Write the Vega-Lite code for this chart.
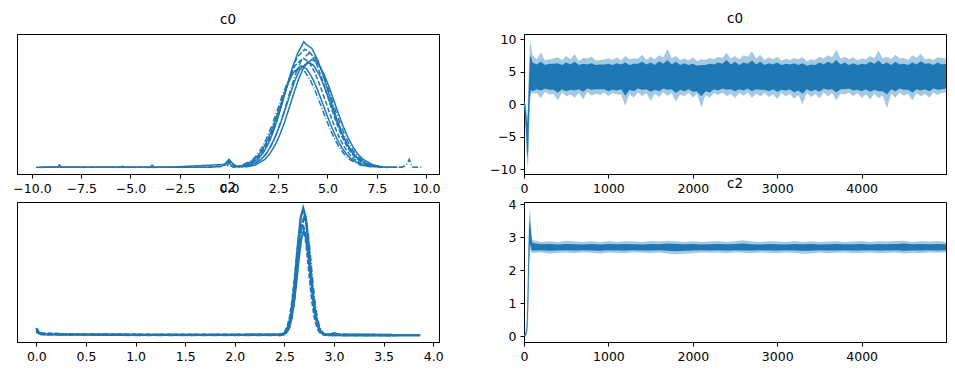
{
"$schema": "https://vega.github.io/schema/vega-lite/v6.json",
"padding": {"left": 12, "top": 11, "right": 9, "bottom": 5},
"config": {
 "font": "DejaVu Sans",
 "view": {"stroke": "black", "strokeWidth": 1},
 "axis": {"grid": false, "domainColor": "black", "tickColor": "black", "labelColor": "black", "labelFontSize": 12.5, "labelFont": "DejaVu Sans", "tickSize": 4, "labelPadding": 4, "labelOverlap": false, "labelFlush": false, "title": null},
 "title": {"fontSize": 13.5, "fontWeight": "normal", "font": "DejaVu Sans", "color": "black", "anchor": "middle", "offset": 8}
},
"datasets": {
 "kde0": [
  {"c":"a","x":-9.8,"y":0.003},{"c":"a","x":-9.0,"y":0.004},{"c":"a","x":-8.7,"y":0.005},{"c":"a","x":-8.6,"y":0.022},{"c":"a","x":-8.5,"y":0.004},{"c":"a","x":-7.5,"y":0.003},{"c":"a","x":-6.5,"y":0.004},{"c":"a","x":-5.5,"y":0.003},{"c":"a","x":-5.4,"y":0.012},{"c":"a","x":-5.3,"y":0.003},{"c":"a","x":-4.0,"y":0.004},{"c":"a","x":-3.9,"y":0.02},{"c":"a","x":-3.8,"y":0.004},{"c":"a","x":-2.5,"y":0.003},{"c":"a","x":-1.0,"y":0.004},{"c":"a","x":-0.4,"y":0.008},{"c":"a","x":-0.2,"y":0.03},{"c":"a","x":0.0,"y":0.065},{"c":"a","x":0.2,"y":0.03},{"c":"a","x":0.4,"y":0.01},
  {"c":"a","x":0.5,"y":0.006},{"c":"a","x":1.0,"y":0.021},{"c":"a","x":1.5,"y":0.071},{"c":"a","x":1.75,"y":0.119},{"c":"a","x":2.0,"y":0.189},{"c":"a","x":2.25,"y":0.282},{"c":"a","x":2.5,"y":0.399},{"c":"a","x":2.75,"y":0.533},{"c":"a","x":3.0,"y":0.672},{"c":"a","x":3.25,"y":0.801},{"c":"a","x":3.5,"y":0.902},{"c":"a","x":3.8,"y":0.99},{"c":"a","x":3.9,"y":0.97},{"c":"a","x":4.2,"y":0.938},{"c":"a","x":4.5,"y":0.847},{"c":"a","x":4.75,"y":0.738},{"c":"a","x":5.0,"y":0.614},{"c":"a","x":5.25,"y":0.487},{"c":"a","x":5.5,"y":0.369},{"c":"a","x":5.75,"y":0.266},{"c":"a","x":6.0,"y":0.183},{"c":"a","x":6.25,"y":0.12},{"c":"a","x":6.5,"y":0.076},{"c":"a","x":7.0,"y":0.025},{"c":"a","x":7.5,"y":0.007},{"c":"a","x":8.0,"y":0.004},{"c":"a","x":8.5,"y":0.003},
  {"c":"b","x":-9.6,"y":0.002},{"c":"b","x":-7.0,"y":0.003},{"c":"b","x":-4.0,"y":0.002},{"c":"b","x":-1.0,"y":0.003},{"c":"b","x":-0.2,"y":0.02},{"c":"b","x":0.0,"y":0.055},{"c":"b","x":0.2,"y":0.02},
  {"c":"b","x":0.35,"y":0.005},{"c":"b","x":0.85,"y":0.019},{"c":"b","x":1.35,"y":0.063},{"c":"b","x":1.6,"y":0.106},{"c":"b","x":1.85,"y":0.168},{"c":"b","x":2.1,"y":0.25},{"c":"b","x":2.35,"y":0.353},{"c":"b","x":2.6,"y":0.472},{"c":"b","x":2.85,"y":0.596},{"c":"b","x":3.1,"y":0.71},{"c":"b","x":3.35,"y":0.8},{"c":"b","x":3.75,"y":0.86},{"c":"b","x":4.05,"y":0.832},{"c":"b","x":4.35,"y":0.751},{"c":"b","x":4.6,"y":0.654},{"c":"b","x":4.85,"y":0.544},{"c":"b","x":5.1,"y":0.432},{"c":"b","x":5.35,"y":0.327},{"c":"b","x":5.6,"y":0.236},{"c":"b","x":5.85,"y":0.163},{"c":"b","x":6.1,"y":0.107},{"c":"b","x":6.35,"y":0.067},{"c":"b","x":6.85,"y":0.022},{"c":"b","x":7.35,"y":0.006},{"c":"b","x":8.0,"y":0.002},{"c":"b","x":8.8,"y":0.003},
  {"c":"c","x":-0.1,"y":0.01},{"c":"c","x":0.0,"y":0.04},{"c":"c","x":0.1,"y":0.012},
  {"c":"c","x":0.65,"y":0.005},{"c":"c","x":1.15,"y":0.02},{"c":"c","x":1.65,"y":0.066},{"c":"c","x":1.9,"y":0.111},{"c":"c","x":2.15,"y":0.176},{"c":"c","x":2.4,"y":0.262},{"c":"c","x":2.65,"y":0.37},{"c":"c","x":2.9,"y":0.494},{"c":"c","x":3.15,"y":0.624},{"c":"c","x":3.4,"y":0.743},{"c":"c","x":3.65,"y":0.837},{"c":"c","x":4.05,"y":0.9},{"c":"c","x":4.35,"y":0.87},{"c":"c","x":4.65,"y":0.786},{"c":"c","x":4.9,"y":0.685},{"c":"c","x":5.15,"y":0.57},{"c":"c","x":5.4,"y":0.452},{"c":"c","x":5.65,"y":0.342},{"c":"c","x":5.9,"y":0.247},{"c":"c","x":6.15,"y":0.17},{"c":"c","x":6.4,"y":0.112},{"c":"c","x":6.65,"y":0.07},{"c":"c","x":7.15,"y":0.023},{"c":"c","x":7.65,"y":0.006},{"c":"c","x":8.0,"y":0.003},{"c":"c","x":8.8,"y":0.004},{"c":"c","x":9.0,"y":0.02},{"c":"c","x":9.15,"y":0.065},{"c":"c","x":9.3,"y":0.005},{"c":"c","x":9.8,"y":0.003},
  {"c":"d","x":-9.5,"y":0.004},{"c":"d","x":-6.0,"y":0.003},{"c":"d","x":-3.0,"y":0.004},{"c":"d","x":-0.2,"y":0.025},{"c":"d","x":0.0,"y":0.045},{"c":"d","x":0.15,"y":0.01},
  {"c":"d","x":0.25,"y":0.005},{"c":"d","x":0.75,"y":0.018},{"c":"d","x":1.25,"y":0.058},{"c":"d","x":1.5,"y":0.098},{"c":"d","x":1.75,"y":0.156},{"c":"d","x":2.0,"y":0.233},{"c":"d","x":2.25,"y":0.329},{"c":"d","x":2.5,"y":0.439},{"c":"d","x":2.75,"y":0.554},{"c":"d","x":3.0,"y":0.661},{"c":"d","x":3.25,"y":0.744},{"c":"d","x":3.65,"y":0.8},{"c":"d","x":3.95,"y":0.774},{"c":"d","x":4.25,"y":0.698},{"c":"d","x":4.5,"y":0.609},{"c":"d","x":4.75,"y":0.506},{"c":"d","x":5.0,"y":0.402},{"c":"d","x":5.25,"y":0.304},{"c":"d","x":5.5,"y":0.219},{"c":"d","x":5.75,"y":0.151},{"c":"d","x":6.0,"y":0.099},{"c":"d","x":6.25,"y":0.062},{"c":"d","x":6.75,"y":0.021},{"c":"d","x":7.25,"y":0.006},
  {"c":"e","x":0.6,"y":0.005},{"c":"e","x":1.1,"y":0.018},{"c":"e","x":1.6,"y":0.061},{"c":"e","x":1.85,"y":0.102},{"c":"e","x":2.1,"y":0.162},{"c":"e","x":2.35,"y":0.242},{"c":"e","x":2.6,"y":0.341},{"c":"e","x":2.85,"y":0.456},{"c":"e","x":3.1,"y":0.575},{"c":"e","x":3.35,"y":0.686},{"c":"e","x":3.6,"y":0.772},{"c":"e","x":4.0,"y":0.83},{"c":"e","x":4.3,"y":0.803},{"c":"e","x":4.6,"y":0.725},{"c":"e","x":4.85,"y":0.632},{"c":"e","x":5.1,"y":0.525},{"c":"e","x":5.35,"y":0.417},{"c":"e","x":5.6,"y":0.315},{"c":"e","x":5.85,"y":0.227},{"c":"e","x":6.1,"y":0.157},{"c":"e","x":6.35,"y":0.103},{"c":"e","x":6.6,"y":0.065},{"c":"e","x":7.1,"y":0.022},{"c":"e","x":7.6,"y":0.006},
  {"c":"f","x":0.45,"y":0.006},{"c":"f","x":0.95,"y":0.02},{"c":"f","x":1.45,"y":0.068},{"c":"f","x":1.7,"y":0.114},{"c":"f","x":1.95,"y":0.181},{"c":"f","x":2.2,"y":0.271},{"c":"f","x":2.45,"y":0.382},{"c":"f","x":2.7,"y":0.511},{"c":"f","x":2.95,"y":0.644},{"c":"f","x":3.2,"y":0.768},{"c":"f","x":3.45,"y":0.865},{"c":"f","x":3.85,"y":0.93},{"c":"f","x":4.15,"y":0.899},{"c":"f","x":4.45,"y":0.812},{"c":"f","x":4.7,"y":0.708},{"c":"f","x":4.95,"y":0.589},{"c":"f","x":5.2,"y":0.467},{"c":"f","x":5.45,"y":0.353},{"c":"f","x":5.7,"y":0.255},{"c":"f","x":5.95,"y":0.176},{"c":"f","x":6.2,"y":0.115},{"c":"f","x":6.45,"y":0.073},{"c":"f","x":6.95,"y":0.024},{"c":"f","x":7.45,"y":0.007},
  {"c":"g","x":0.15,"y":0.005},{"c":"g","x":0.65,"y":0.017},{"c":"g","x":1.15,"y":0.057},{"c":"g","x":1.4,"y":0.096},{"c":"g","x":1.65,"y":0.152},{"c":"g","x":1.9,"y":0.227},{"c":"g","x":2.15,"y":0.321},{"c":"g","x":2.4,"y":0.428},{"c":"g","x":2.65,"y":0.541},{"c":"g","x":2.9,"y":0.644},{"c":"g","x":3.15,"y":0.725},{"c":"g","x":3.55,"y":0.78},{"c":"g","x":3.85,"y":0.754},{"c":"g","x":4.15,"y":0.681},{"c":"g","x":4.4,"y":0.594},{"c":"g","x":4.65,"y":0.494},{"c":"g","x":4.9,"y":0.392},{"c":"g","x":5.15,"y":0.296},{"c":"g","x":5.4,"y":0.214},{"c":"g","x":5.65,"y":0.147},{"c":"g","x":5.9,"y":0.097},{"c":"g","x":6.15,"y":0.061},{"c":"g","x":6.65,"y":0.02},{"c":"g","x":7.15,"y":0.005},
  {"c":"h","x":0.8,"y":0.005},{"c":"h","x":1.3,"y":0.019},{"c":"h","x":1.8,"y":0.062},{"c":"h","x":2.05,"y":0.105},{"c":"h","x":2.3,"y":0.166},{"c":"h","x":2.55,"y":0.247},{"c":"h","x":2.8,"y":0.349},{"c":"h","x":3.05,"y":0.467},{"c":"h","x":3.3,"y":0.589},{"c":"h","x":3.55,"y":0.702},{"c":"h","x":3.8,"y":0.791},{"c":"h","x":4.2,"y":0.85},{"c":"h","x":4.5,"y":0.822},{"c":"h","x":4.8,"y":0.742},{"c":"h","x":5.05,"y":0.647},{"c":"h","x":5.3,"y":0.538},{"c":"h","x":5.55,"y":0.427},{"c":"h","x":5.8,"y":0.323},{"c":"h","x":6.05,"y":0.233},{"c":"h","x":6.3,"y":0.161},{"c":"h","x":6.55,"y":0.105},{"c":"h","x":6.8,"y":0.066},{"c":"h","x":7.3,"y":0.022},{"c":"h","x":7.8,"y":0.006}
 ],
 "kde2": [
  {"c":"a","x":0.0,"y":0.045},{"c":"a","x":0.02,"y":0.025},{"c":"a","x":0.05,"y":0.012},{"c":"a","x":0.1,"y":0.01},{"c":"a","x":0.5,"y":0.008},{"c":"a","x":1.0,"y":0.006},{"c":"a","x":1.5,"y":0.006},{"c":"a","x":2.0,"y":0.006},{"c":"a","x":2.3,"y":0.007},{"c":"a","x":2.44,"y":0.007},{"c":"a","x":2.49,"y":0.014},{"c":"a","x":2.515,"y":0.032},{"c":"a","x":2.54,"y":0.075},{"c":"a","x":2.565,"y":0.16},{"c":"a","x":2.59,"y":0.306},{"c":"a","x":2.615,"y":0.514},{"c":"a","x":2.64,"y":0.744},{"c":"a","x":2.665,"y":0.929},{"c":"a","x":2.69,"y":1.0},{"c":"a","x":2.715,"y":0.929},{"c":"a","x":2.74,"y":0.744},{"c":"a","x":2.765,"y":0.514},{"c":"a","x":2.79,"y":0.306},{"c":"a","x":2.815,"y":0.16},{"c":"a","x":2.84,"y":0.075},{"c":"a","x":2.865,"y":0.032},{"c":"a","x":2.89,"y":0.014},{"c":"a","x":2.94,"y":0.007},{"c":"a","x":3.0,"y":0.018},{"c":"a","x":3.06,"y":0.006},{"c":"a","x":3.3,"y":0.008},{"c":"a","x":3.5,"y":0.005},{"c":"a","x":3.65,"y":0.004},
  {"c":"b","x":0.0,"y":0.06},{"c":"b","x":0.03,"y":0.02},{"c":"b","x":0.3,"y":0.01},{"c":"b","x":1.2,"y":0.008},{"c":"b","x":2.0,"y":0.007},{"c":"b","x":2.43,"y":0.007},{"c":"b","x":2.48,"y":0.013},{"c":"b","x":2.505,"y":0.028},{"c":"b","x":2.53,"y":0.066},{"c":"b","x":2.555,"y":0.142},{"c":"b","x":2.58,"y":0.272},{"c":"b","x":2.605,"y":0.455},{"c":"b","x":2.63,"y":0.658},{"c":"b","x":2.655,"y":0.82},{"c":"b","x":2.68,"y":0.88},{"c":"b","x":2.705,"y":0.82},{"c":"b","x":2.73,"y":0.658},{"c":"b","x":2.755,"y":0.455},{"c":"b","x":2.78,"y":0.272},{"c":"b","x":2.805,"y":0.142},{"c":"b","x":2.83,"y":0.066},{"c":"b","x":2.855,"y":0.028},{"c":"b","x":2.88,"y":0.013},{"c":"b","x":2.93,"y":0.007},{"c":"b","x":3.2,"y":0.006},{"c":"b","x":3.62,"y":0.004},
  {"c":"c","x":0.0,"y":0.03},{"c":"c","x":0.05,"y":0.01},{"c":"c","x":1.0,"y":0.005},{"c":"c","x":2.45,"y":0.005},{"c":"c","x":2.5,"y":0.012},{"c":"c","x":2.525,"y":0.029},{"c":"c","x":2.55,"y":0.07},{"c":"c","x":2.575,"y":0.151},{"c":"c","x":2.6,"y":0.29},{"c":"c","x":2.625,"y":0.483},{"c":"c","x":2.65,"y":0.697},{"c":"c","x":2.675,"y":0.869},{"c":"c","x":2.7,"y":0.93},{"c":"c","x":2.725,"y":0.869},{"c":"c","x":2.75,"y":0.697},{"c":"c","x":2.775,"y":0.483},{"c":"c","x":2.8,"y":0.29},{"c":"c","x":2.825,"y":0.151},{"c":"c","x":2.85,"y":0.07},{"c":"c","x":2.875,"y":0.029},{"c":"c","x":2.9,"y":0.012},{"c":"c","x":2.95,"y":0.005},{"c":"c","x":3.4,"y":0.004},
  {"c":"d","x":2.445,"y":0.004},{"c":"d","x":2.495,"y":0.01},{"c":"d","x":2.52,"y":0.025},{"c":"d","x":2.545,"y":0.06},{"c":"d","x":2.57,"y":0.132},{"c":"d","x":2.595,"y":0.254},{"c":"d","x":2.62,"y":0.425},{"c":"d","x":2.645,"y":0.614},{"c":"d","x":2.67,"y":0.766},{"c":"d","x":2.695,"y":0.82},{"c":"d","x":2.72,"y":0.766},{"c":"d","x":2.745,"y":0.614},{"c":"d","x":2.77,"y":0.425},{"c":"d","x":2.795,"y":0.254},{"c":"d","x":2.82,"y":0.132},{"c":"d","x":2.845,"y":0.06},{"c":"d","x":2.87,"y":0.025},{"c":"d","x":2.895,"y":0.01},{"c":"d","x":2.945,"y":0.004},{"c":"d","x":3.3,"y":0.003},{"c":"d","x":3.87,"y":0.003}
 ],
 "tr0": [
  {"b":"o","t":0,"lo":-0.5,"hi":0.5},{"b":"o","t":10,"lo":-2,"hi":0.5},{"b":"o","t":20,"lo":-4,"hi":0},{"b":"o","t":30,"lo":-7,"hi":-1},{"b":"o","t":40,"lo":-9.7,"hi":-2},{"b":"o","t":50,"lo":-9,"hi":2},{"b":"o","t":60,"lo":-4,"hi":6},{"b":"o","t":70,"lo":0,"hi":9},{"b":"o","t":80,"lo":1.5,"hi":9.8},{"b":"o","t":90,"lo":1.8,"hi":8.5},
  {"b":"o","t":100,"lo":1.6,"hi":7.6},{"b":"o","t":150,"lo":1.7,"hi":6.9},{"b":"o","t":200,"lo":0.9,"hi":7.9},{"b":"o","t":250,"lo":1.9,"hi":6.7},{"b":"o","t":300,"lo":1.5,"hi":6.9},{"b":"o","t":350,"lo":1.6,"hi":7.0},{"b":"o","t":400,"lo":0.6,"hi":7.2},{"b":"o","t":450,"lo":1.8,"hi":6.8},{"b":"o","t":500,"lo":1.2,"hi":7.4},{"b":"o","t":550,"lo":1.5,"hi":6.9},
  {"b":"o","t":600,"lo":1.0,"hi":7.7},{"b":"o","t":650,"lo":1.7,"hi":6.6},{"b":"o","t":700,"lo":0.7,"hi":7.1},{"b":"o","t":750,"lo":1.9,"hi":7.0},{"b":"o","t":800,"lo":1.3,"hi":7.3},{"b":"o","t":850,"lo":1.6,"hi":6.7},{"b":"o","t":900,"lo":1.4,"hi":6.8},{"b":"o","t":950,"lo":1.8,"hi":6.9},{"b":"o","t":1000,"lo":1.2,"hi":7.0},{"b":"o","t":1050,"lo":1.7,"hi":6.8},
  {"b":"o","t":1100,"lo":1.5,"hi":7.2},{"b":"o","t":1150,"lo":1.5,"hi":6.7},{"b":"o","t":1200,"lo":-0.3,"hi":7.4},{"b":"o","t":1250,"lo":1.6,"hi":6.9},{"b":"o","t":1300,"lo":1.0,"hi":7.0},{"b":"o","t":1350,"lo":1.8,"hi":7.0},{"b":"o","t":1400,"lo":1.2,"hi":7.6},{"b":"o","t":1450,"lo":1.7,"hi":6.8},{"b":"o","t":1500,"lo":0.5,"hi":7.3},{"b":"o","t":1550,"lo":1.6,"hi":6.9},
  {"b":"o","t":1600,"lo":1.1,"hi":7.5},{"b":"o","t":1650,"lo":1.8,"hi":7.2},{"b":"o","t":1700,"lo":1.3,"hi":8.5},{"b":"o","t":1750,"lo":1.7,"hi":7.0},{"b":"o","t":1800,"lo":0.4,"hi":7.4},{"b":"o","t":1850,"lo":1.5,"hi":6.8},{"b":"o","t":1900,"lo":1.2,"hi":7.0},{"b":"o","t":1950,"lo":1.8,"hi":6.7},{"b":"o","t":2000,"lo":1.0,"hi":7.2},{"b":"o","t":2050,"lo":1.6,"hi":6.6},
  {"b":"o","t":2100,"lo":-0.5,"hi":6.9},{"b":"o","t":2150,"lo":1.4,"hi":6.8},{"b":"o","t":2200,"lo":1.0,"hi":7.1},{"b":"o","t":2250,"lo":1.7,"hi":6.9},{"b":"o","t":2300,"lo":1.4,"hi":7.3},{"b":"o","t":2350,"lo":1.8,"hi":7.1},{"b":"o","t":2400,"lo":1.2,"hi":7.9},{"b":"o","t":2450,"lo":1.6,"hi":7.0},{"b":"o","t":2500,"lo":0.9,"hi":7.4},{"b":"o","t":2550,"lo":1.7,"hi":6.9},
  {"b":"o","t":2600,"lo":1.3,"hi":7.5},{"b":"o","t":2650,"lo":1.8,"hi":7.3},{"b":"o","t":2700,"lo":1.0,"hi":8.1},{"b":"o","t":2750,"lo":1.6,"hi":7.0},{"b":"o","t":2800,"lo":1.2,"hi":7.6},{"b":"o","t":2850,"lo":1.7,"hi":6.8},{"b":"o","t":2900,"lo":1.1,"hi":7.2},{"b":"o","t":2950,"lo":1.5,"hi":6.9},{"b":"o","t":3000,"lo":0.8,"hi":7.3},{"b":"o","t":3050,"lo":1.7,"hi":6.7},
  {"b":"o","t":3100,"lo":1.2,"hi":7.0},{"b":"o","t":3150,"lo":1.6,"hi":6.8},{"b":"o","t":3200,"lo":0.8,"hi":7.1},{"b":"o","t":3250,"lo":1.4,"hi":6.9},{"b":"o","t":3300,"lo":0.0,"hi":7.2},{"b":"o","t":3350,"lo":1.7,"hi":6.6},{"b":"o","t":3400,"lo":1.1,"hi":6.9},{"b":"o","t":3450,"lo":1.6,"hi":6.8},{"b":"o","t":3500,"lo":0.9,"hi":7.3},{"b":"o","t":3550,"lo":1.8,"hi":7.0},
  {"b":"o","t":3600,"lo":1.2,"hi":7.5},{"b":"o","t":3650,"lo":1.7,"hi":7.2},{"b":"o","t":3700,"lo":0.6,"hi":8.4},{"b":"o","t":3750,"lo":1.6,"hi":7.0},{"b":"o","t":3800,"lo":1.5,"hi":7.3},{"b":"o","t":3850,"lo":1.8,"hi":6.9},{"b":"o","t":3900,"lo":1.2,"hi":7.2},{"b":"o","t":3950,"lo":1.7,"hi":6.7},{"b":"o","t":4000,"lo":1.0,"hi":7.0},{"b":"o","t":4050,"lo":1.5,"hi":6.9},
  {"b":"o","t":4100,"lo":0.7,"hi":7.4},{"b":"o","t":4150,"lo":1.6,"hi":7.1},{"b":"o","t":4200,"lo":0.9,"hi":8.2},{"b":"o","t":4250,"lo":1.3,"hi":7.0},{"b":"o","t":4300,"lo":-0.6,"hi":7.3},{"b":"o","t":4350,"lo":1.6,"hi":6.9},{"b":"o","t":4400,"lo":1.0,"hi":7.6},{"b":"o","t":4450,"lo":1.8,"hi":7.0},{"b":"o","t":4500,"lo":1.3,"hi":7.1},{"b":"o","t":4550,"lo":1.6,"hi":6.8},
  {"b":"o","t":4600,"lo":0.6,"hi":7.5},{"b":"o","t":4650,"lo":1.7,"hi":7.1},{"b":"o","t":4700,"lo":1.2,"hi":7.8},{"b":"o","t":4750,"lo":1.6,"hi":6.9},{"b":"o","t":4800,"lo":1.0,"hi":7.0},{"b":"o","t":4850,"lo":1.8,"hi":6.8},{"b":"o","t":4900,"lo":1.4,"hi":7.2},{"b":"o","t":4950,"lo":1.7,"hi":7.1},{"b":"o","t":4999,"lo":1.8,"hi":7.0},
  {"b":"i","t":0,"lo":-0.3,"hi":0.3},{"b":"i","t":10,"lo":-1.5,"hi":0.2},{"b":"i","t":20,"lo":-3.3,"hi":-0.5},{"b":"i","t":30,"lo":-6,"hi":-2},{"b":"i","t":40,"lo":-8.5,"hi":-3},{"b":"i","t":50,"lo":-7,"hi":0},{"b":"i","t":60,"lo":-2,"hi":4},{"b":"i","t":70,"lo":1,"hi":7},{"b":"i","t":80,"lo":2,"hi":7.5},{"b":"i","t":90,"lo":2.2,"hi":7},
  {"b":"i","t":100,"lo":2.0,"hi":6.4},{"b":"i","t":150,"lo":2.3,"hi":6.1},{"b":"i","t":200,"lo":2.1,"hi":6.5},{"b":"i","t":250,"lo":2.4,"hi":6.0},{"b":"i","t":300,"lo":2.2,"hi":6.2},{"b":"i","t":350,"lo":2.2,"hi":6.2},{"b":"i","t":400,"lo":1.8,"hi":6.3},{"b":"i","t":450,"lo":2.3,"hi":6.0},{"b":"i","t":500,"lo":2.0,"hi":6.4},{"b":"i","t":550,"lo":2.2,"hi":6.1},
  {"b":"i","t":600,"lo":2.1,"hi":6.5},{"b":"i","t":650,"lo":2.3,"hi":6.0},{"b":"i","t":700,"lo":1.9,"hi":6.2},{"b":"i","t":750,"lo":2.4,"hi":6.1},{"b":"i","t":800,"lo":2.2,"hi":6.3},{"b":"i","t":850,"lo":2.3,"hi":6.0},{"b":"i","t":900,"lo":2.3,"hi":6.1},{"b":"i","t":950,"lo":2.3,"hi":6.1},{"b":"i","t":1000,"lo":2.0,"hi":6.2},{"b":"i","t":1050,"lo":2.2,"hi":6.0},
  {"b":"i","t":1100,"lo":2.1,"hi":6.3},{"b":"i","t":1150,"lo":2.3,"hi":6.1},{"b":"i","t":1200,"lo":1.3,"hi":6.4},{"b":"i","t":1250,"lo":2.2,"hi":6.0},{"b":"i","t":1300,"lo":2.0,"hi":6.2},{"b":"i","t":1350,"lo":2.4,"hi":6.2},{"b":"i","t":1400,"lo":2.2,"hi":6.5},{"b":"i","t":1450,"lo":2.3,"hi":6.1},{"b":"i","t":1500,"lo":1.9,"hi":6.4},{"b":"i","t":1550,"lo":2.2,"hi":6.0},
  {"b":"i","t":1600,"lo":2.0,"hi":6.6},{"b":"i","t":1650,"lo":2.4,"hi":6.2},{"b":"i","t":1700,"lo":2.2,"hi":6.8},{"b":"i","t":1750,"lo":2.3,"hi":6.1},{"b":"i","t":1800,"lo":1.7,"hi":6.5},{"b":"i","t":1850,"lo":2.2,"hi":6.0},{"b":"i","t":1900,"lo":2.0,"hi":6.3},{"b":"i","t":1950,"lo":2.3,"hi":6.0},{"b":"i","t":2000,"lo":1.9,"hi":6.2},{"b":"i","t":2050,"lo":2.0,"hi":5.9},
  {"b":"i","t":2100,"lo":1.2,"hi":6.0},{"b":"i","t":2150,"lo":2.0,"hi":6.0},{"b":"i","t":2200,"lo":1.8,"hi":6.2},{"b":"i","t":2250,"lo":2.3,"hi":6.1},{"b":"i","t":2300,"lo":2.1,"hi":6.4},{"b":"i","t":2350,"lo":2.4,"hi":6.2},{"b":"i","t":2400,"lo":2.2,"hi":6.8},{"b":"i","t":2450,"lo":2.3,"hi":6.1},{"b":"i","t":2500,"lo":2.0,"hi":6.5},{"b":"i","t":2550,"lo":2.3,"hi":6.0},
  {"b":"i","t":2600,"lo":2.1,"hi":6.4},{"b":"i","t":2650,"lo":2.4,"hi":6.2},{"b":"i","t":2700,"lo":2.0,"hi":6.7},{"b":"i","t":2750,"lo":2.3,"hi":6.1},{"b":"i","t":2800,"lo":2.2,"hi":6.5},{"b":"i","t":2850,"lo":2.2,"hi":6.0},{"b":"i","t":2900,"lo":2.0,"hi":6.3},{"b":"i","t":2950,"lo":2.3,"hi":6.1},{"b":"i","t":3000,"lo":1.9,"hi":6.4},{"b":"i","t":3050,"lo":2.2,"hi":6.0},
  {"b":"i","t":3100,"lo":2.1,"hi":6.2},{"b":"i","t":3150,"lo":2.3,"hi":6.1},{"b":"i","t":3200,"lo":1.8,"hi":6.3},{"b":"i","t":3250,"lo":2.1,"hi":6.0},{"b":"i","t":3300,"lo":1.6,"hi":6.3},{"b":"i","t":3350,"lo":2.3,"hi":5.9},{"b":"i","t":3400,"lo":2.0,"hi":6.1},{"b":"i","t":3450,"lo":2.2,"hi":6.0},{"b":"i","t":3500,"lo":1.9,"hi":6.4},{"b":"i","t":3550,"lo":2.4,"hi":6.1},
  {"b":"i","t":3600,"lo":2.2,"hi":6.5},{"b":"i","t":3650,"lo":2.3,"hi":6.2},{"b":"i","t":3700,"lo":1.8,"hi":6.8},{"b":"i","t":3750,"lo":2.3,"hi":6.1},{"b":"i","t":3800,"lo":2.3,"hi":6.4},{"b":"i","t":3850,"lo":2.4,"hi":6.0},{"b":"i","t":3900,"lo":2.1,"hi":6.3},{"b":"i","t":3950,"lo":2.2,"hi":6.0},{"b":"i","t":4000,"lo":2.0,"hi":6.2},{"b":"i","t":4050,"lo":2.3,"hi":6.1},
  {"b":"i","t":4100,"lo":1.9,"hi":6.5},{"b":"i","t":4150,"lo":2.2,"hi":6.2},{"b":"i","t":4200,"lo":2.0,"hi":6.7},{"b":"i","t":4250,"lo":2.0,"hi":6.1},{"b":"i","t":4300,"lo":1.5,"hi":6.4},{"b":"i","t":4350,"lo":2.3,"hi":6.0},{"b":"i","t":4400,"lo":2.0,"hi":6.5},{"b":"i","t":4450,"lo":2.4,"hi":6.1},{"b":"i","t":4500,"lo":2.2,"hi":6.2},{"b":"i","t":4550,"lo":2.2,"hi":6.0},
  {"b":"i","t":4600,"lo":1.8,"hi":6.4},{"b":"i","t":4650,"lo":2.3,"hi":6.1},{"b":"i","t":4700,"lo":2.1,"hi":6.6},{"b":"i","t":4750,"lo":2.3,"hi":6.2},{"b":"i","t":4800,"lo":2.0,"hi":6.3},{"b":"i","t":4850,"lo":2.4,"hi":6.0},{"b":"i","t":4900,"lo":2.2,"hi":6.4},{"b":"i","t":4950,"lo":2.3,"hi":6.1},{"b":"i","t":4999,"lo":2.4,"hi":6.2}
 ],
 "tr2": [
  {"b":"o","t":0,"lo":0.0,"hi":0.05},{"b":"o","t":10,"lo":0.0,"hi":0.08},{"b":"o","t":20,"lo":0.01,"hi":0.14},{"b":"o","t":30,"lo":0.04,"hi":0.4},{"b":"o","t":40,"lo":0.1,"hi":1.3},{"b":"o","t":50,"lo":0.5,"hi":2.7},{"b":"o","t":60,"lo":1.7,"hi":3.65},{"b":"o","t":70,"lo":2.5,"hi":3.87},{"b":"o","t":80,"lo":2.62,"hi":3.55},{"b":"o","t":90,"lo":2.55,"hi":3.1},
  {"b":"o","t":100,"lo":2.52,"hi":2.92},{"b":"o","t":200,"lo":2.55,"hi":2.86},{"b":"o","t":300,"lo":2.5,"hi":2.88},{"b":"o","t":400,"lo":2.53,"hi":2.85},{"b":"o","t":500,"lo":2.54,"hi":2.9},{"b":"o","t":600,"lo":2.52,"hi":2.87},{"b":"o","t":700,"lo":2.55,"hi":2.86},{"b":"o","t":800,"lo":2.53,"hi":2.88},{"b":"o","t":900,"lo":2.51,"hi":2.85},{"b":"o","t":1000,"lo":2.54,"hi":2.89},
  {"b":"o","t":1100,"lo":2.53,"hi":2.86},{"b":"o","t":1200,"lo":2.52,"hi":2.88},{"b":"o","t":1300,"lo":2.55,"hi":2.87},{"b":"o","t":1400,"lo":2.53,"hi":2.86},{"b":"o","t":1500,"lo":2.52,"hi":2.89},{"b":"o","t":1600,"lo":2.54,"hi":2.87},{"b":"o","t":1700,"lo":2.51,"hi":2.9},{"b":"o","t":1800,"lo":2.49,"hi":2.88},{"b":"o","t":1900,"lo":2.5,"hi":2.86},{"b":"o","t":2000,"lo":2.52,"hi":2.88},
  {"b":"o","t":2100,"lo":2.54,"hi":2.86},{"b":"o","t":2200,"lo":2.53,"hi":2.87},{"b":"o","t":2300,"lo":2.54,"hi":2.89},{"b":"o","t":2400,"lo":2.52,"hi":2.86},{"b":"o","t":2500,"lo":2.55,"hi":2.88},{"b":"o","t":2600,"lo":2.53,"hi":2.91},{"b":"o","t":2700,"lo":2.52,"hi":2.87},{"b":"o","t":2800,"lo":2.54,"hi":2.86},{"b":"o","t":2900,"lo":2.53,"hi":2.88},{"b":"o","t":3000,"lo":2.52,"hi":2.87},
  {"b":"o","t":3100,"lo":2.54,"hi":2.86},{"b":"o","t":3200,"lo":2.53,"hi":2.89},{"b":"o","t":3300,"lo":2.5,"hi":2.86},{"b":"o","t":3400,"lo":2.51,"hi":2.88},{"b":"o","t":3500,"lo":2.54,"hi":2.86},{"b":"o","t":3600,"lo":2.52,"hi":2.87},{"b":"o","t":3700,"lo":2.53,"hi":2.88},{"b":"o","t":3800,"lo":2.54,"hi":2.86},{"b":"o","t":3900,"lo":2.52,"hi":2.87},{"b":"o","t":4000,"lo":2.53,"hi":2.89},
  {"b":"o","t":4100,"lo":2.54,"hi":2.86},{"b":"o","t":4200,"lo":2.52,"hi":2.88},{"b":"o","t":4300,"lo":2.53,"hi":2.87},{"b":"o","t":4400,"lo":2.54,"hi":2.89},{"b":"o","t":4500,"lo":2.51,"hi":2.9},{"b":"o","t":4600,"lo":2.53,"hi":2.86},{"b":"o","t":4700,"lo":2.52,"hi":2.88},{"b":"o","t":4800,"lo":2.54,"hi":2.87},{"b":"o","t":4900,"lo":2.53,"hi":2.89},{"b":"o","t":4999,"lo":2.55,"hi":2.86},
  {"b":"i","t":0,"lo":0.0,"hi":0.03},{"b":"i","t":10,"lo":0.01,"hi":0.05},{"b":"i","t":20,"lo":0.03,"hi":0.1},{"b":"i","t":30,"lo":0.08,"hi":0.25},{"b":"i","t":40,"lo":0.25,"hi":0.9},{"b":"i","t":50,"lo":0.9,"hi":2.2},{"b":"i","t":60,"lo":2.2,"hi":3.3},{"b":"i","t":70,"lo":2.8,"hi":3.55},{"b":"i","t":80,"lo":2.72,"hi":3.25},{"b":"i","t":90,"lo":2.62,"hi":2.95},
  {"b":"i","t":100,"lo":2.6,"hi":2.83},{"b":"i","t":200,"lo":2.61,"hi":2.79},{"b":"i","t":300,"lo":2.59,"hi":2.8},{"b":"i","t":400,"lo":2.6,"hi":2.78},{"b":"i","t":500,"lo":2.61,"hi":2.8},{"b":"i","t":600,"lo":2.6,"hi":2.79},{"b":"i","t":700,"lo":2.61,"hi":2.78},{"b":"i","t":800,"lo":2.6,"hi":2.8},{"b":"i","t":900,"lo":2.59,"hi":2.78},{"b":"i","t":1000,"lo":2.61,"hi":2.8},
  {"b":"i","t":1100,"lo":2.6,"hi":2.79},{"b":"i","t":1200,"lo":2.6,"hi":2.8},{"b":"i","t":1300,"lo":2.61,"hi":2.79},{"b":"i","t":1400,"lo":2.6,"hi":2.78},{"b":"i","t":1500,"lo":2.6,"hi":2.8},{"b":"i","t":1600,"lo":2.61,"hi":2.79},{"b":"i","t":1700,"lo":2.59,"hi":2.81},{"b":"i","t":1800,"lo":2.58,"hi":2.8},{"b":"i","t":1900,"lo":2.59,"hi":2.79},{"b":"i","t":2000,"lo":2.6,"hi":2.8},
  {"b":"i","t":2100,"lo":2.61,"hi":2.78},{"b":"i","t":2200,"lo":2.6,"hi":2.79},{"b":"i","t":2300,"lo":2.61,"hi":2.8},{"b":"i","t":2400,"lo":2.6,"hi":2.79},{"b":"i","t":2500,"lo":2.61,"hi":2.8},{"b":"i","t":2600,"lo":2.6,"hi":2.81},{"b":"i","t":2700,"lo":2.6,"hi":2.79},{"b":"i","t":2800,"lo":2.61,"hi":2.78},{"b":"i","t":2900,"lo":2.6,"hi":2.8},{"b":"i","t":3000,"lo":2.6,"hi":2.79},
  {"b":"i","t":3100,"lo":2.61,"hi":2.78},{"b":"i","t":3200,"lo":2.6,"hi":2.8},{"b":"i","t":3300,"lo":2.59,"hi":2.79},{"b":"i","t":3400,"lo":2.59,"hi":2.8},{"b":"i","t":3500,"lo":2.61,"hi":2.78},{"b":"i","t":3600,"lo":2.6,"hi":2.79},{"b":"i","t":3700,"lo":2.6,"hi":2.8},{"b":"i","t":3800,"lo":2.61,"hi":2.79},{"b":"i","t":3900,"lo":2.6,"hi":2.79},{"b":"i","t":4000,"lo":2.6,"hi":2.8},
  {"b":"i","t":4100,"lo":2.61,"hi":2.78},{"b":"i","t":4200,"lo":2.6,"hi":2.8},{"b":"i","t":4300,"lo":2.6,"hi":2.79},{"b":"i","t":4400,"lo":2.61,"hi":2.8},{"b":"i","t":4500,"lo":2.59,"hi":2.81},{"b":"i","t":4600,"lo":2.6,"hi":2.79},{"b":"i","t":4700,"lo":2.6,"hi":2.8},{"b":"i","t":4800,"lo":2.61,"hi":2.79},{"b":"i","t":4900,"lo":2.6,"hi":2.8},{"b":"i","t":4999,"lo":2.61,"hi":2.79}
 ]
},
"columns": 2,
"spacing": {"row": 28, "column": 85},
"bounds": "flush",
"concat": [
 {
  "width": 422, "height": 140,
  "title": {"text": "c0"},
  "data": {"name": "kde0"},
  "mark": {"type": "line", "color": "#1f77b4", "strokeWidth": 1.5, "clip": true},
  "encoding": {
   "x": {"field": "x", "type": "quantitative", "scale": {"domain": [-10.76, 10.66], "nice": false, "zero": false}, "axis": {"values": [-10, -7.5, -5, -2.5, 0, 2.5, 5, 7.5, 10], "format": ".1f"}},
   "y": {"field": "y", "type": "quantitative", "scale": {"domain": [-0.05, 1.05], "nice": false, "zero": false}, "axis": {"labels": false, "ticks": false}},
   "strokeDash": {"field": "c", "type": "nominal", "scale": {"domain": ["a", "b", "c", "d", "e", "f", "g", "h"], "range": [[1, 0], [5, 2], [6, 2, 1, 2], [1, 0], [1, 0], [5, 2], [6, 2, 1, 2], [1, 0]]}, "legend": null}
  }
 },
 {
  "width": 422, "height": 140,
  "title": {"text": "c0"},
  "data": {"name": "tr0"},
  "mark": {"type": "area", "color": "#1f77b4", "clip": true},
  "encoding": {
   "x": {"field": "t", "type": "quantitative", "scale": {"domain": [0, 4999], "nice": false, "zero": false}, "axis": {"values": [0, 1000, 2000, 3000, 4000], "format": "d"}},
   "y": {"field": "lo", "type": "quantitative", "scale": {"domain": [-10.73, 10.78], "nice": false, "zero": false}, "axis": {"values": [-10, -5, 0, 5, 10], "format": "d", "labelOverlap": false}},
   "y2": {"field": "hi"},
   "detail": {"field": "b", "type": "nominal"},
   "opacity": {"field": "b", "type": "nominal", "scale": {"domain": ["o", "i"], "range": [0.4, 1]}, "legend": null}
  }
 },
 {
  "width": 422, "height": 140,
  "title": {"text": "c2"},
  "data": {"name": "kde2"},
  "mark": {"type": "line", "color": "#1f77b4", "strokeWidth": 2.4, "clip": true},
  "encoding": {
   "x": {"field": "x", "type": "quantitative", "scale": {"domain": [-0.195, 4.058], "nice": false, "zero": false}, "axis": {"values": [0, 0.5, 1, 1.5, 2, 2.5, 3, 3.5, 4], "format": ".1f"}},
   "y": {"field": "y", "type": "quantitative", "scale": {"domain": [-0.05, 1.05], "nice": false, "zero": false}, "axis": {"labels": false, "ticks": false}},
   "strokeDash": {"field": "c", "type": "nominal", "scale": {"domain": ["a", "b", "c", "d"], "range": [[1, 0], [5, 2], [6, 2, 1, 2], [1, 3]]}, "legend": null}
  }
 },
 {
  "width": 422, "height": 140,
  "title": {"text": "c2"},
  "data": {"name": "tr2"},
  "mark": {"type": "area", "color": "#1f77b4", "clip": true},
  "encoding": {
   "x": {"field": "t", "type": "quantitative", "scale": {"domain": [0, 4999], "nice": false, "zero": false}, "axis": {"values": [0, 1000, 2000, 3000, 4000], "format": "d"}},
   "y": {"field": "lo", "type": "quantitative", "scale": {"domain": [-0.17, 4.07], "nice": false, "zero": false}, "axis": {"values": [0, 1, 2, 3, 4], "format": "d", "labelOverlap": false}},
   "y2": {"field": "hi"},
   "detail": {"field": "b", "type": "nominal"},
   "opacity": {"field": "b", "type": "nominal", "scale": {"domain": ["o", "i"], "range": [0.4, 1]}, "legend": null}
  }
 }
]
}
